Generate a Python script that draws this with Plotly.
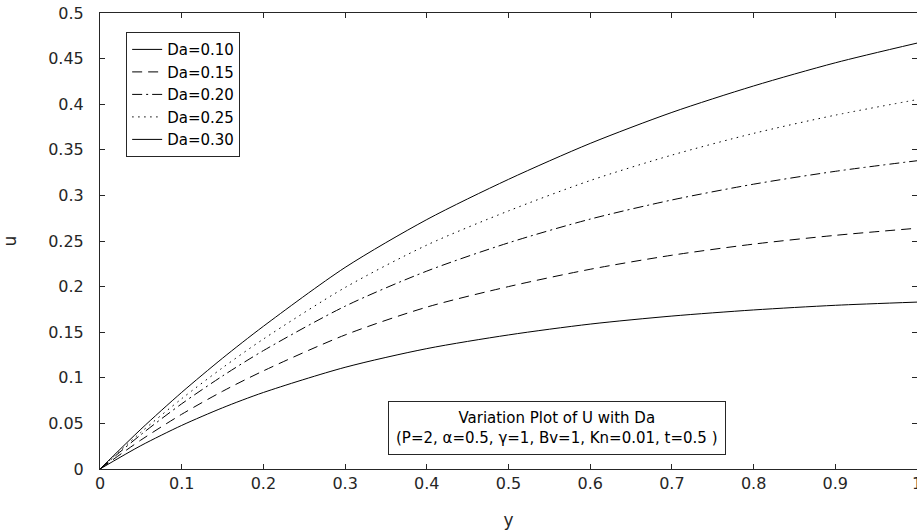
import plotly.graph_objects as go

# positions across the channel (y) and velocity u for each Darcy number
y_pos = [0, 0.05, 0.1, 0.15, 0.2, 0.3, 0.4, 0.5, 0.6, 0.7, 0.8, 0.9, 1.0]
u_da010 = [0, 0.0256, 0.0478, 0.0671, 0.0839, 0.1115, 0.1320, 0.1470, 0.1589, 0.1677, 0.1744, 0.1795, 0.1830]
u_da015 = [0, 0.0317, 0.0600, 0.0852, 0.1076, 0.1470, 0.1775, 0.2000, 0.2190, 0.2344, 0.2466, 0.2562, 0.2640]
u_da020 = [0, 0.0376, 0.0715, 0.1020, 0.1298, 0.1785, 0.2170, 0.2480, 0.2740, 0.2950, 0.3123, 0.3264, 0.3380]
u_da025 = [0, 0.0402, 0.0771, 0.1110, 0.1425, 0.1990, 0.2455, 0.2830, 0.3163, 0.3442, 0.3680, 0.3880, 0.4050]
u_da030 = [0, 0.0436, 0.0840, 0.1215, 0.1565, 0.2210, 0.2735, 0.3176, 0.3570, 0.3910, 0.4200, 0.4454, 0.4670]

series_names = ["Da=0.10", "Da=0.15", "Da=0.20", "Da=0.25", "Da=0.30"]
series_values = [u_da010, u_da015, u_da020, u_da025, u_da030]
dashes = ["solid", "10px,6px", "10px,4px,2px,4px", "1.5px,4.5px", "solid"]

x_ticks = [0, 0.1, 0.2, 0.3, 0.4, 0.5, 0.6, 0.7, 0.8, 0.9, 1]
x_labels = ["0", "0.1", "0.2", "0.3", "0.4", "0.5", "0.6", "0.7", "0.8", "0.9", "1"]
y_ticks = [0, 0.05, 0.1, 0.15, 0.2, 0.25, 0.3, 0.35, 0.4, 0.45, 0.5]
y_labels = ["0", "0.05", "0.1", "0.15", "0.2", "0.25", "0.3", "0.35", "0.4", "0.45", "0.5"]

FONT = "DejaVu Sans, Arial, sans-serif"
AX = "#262626"

fig = go.Figure()
for name, vals, dash in zip(series_names, series_values, dashes):
    fig.add_trace(go.Scatter(
        x=y_pos, y=vals, mode="lines", name=name,
        line=dict(color="black", width=1, dash=dash, shape="spline", smoothing=0.8),
    ))

axis_common = dict(
    showline=True, linecolor=AX, linewidth=1, mirror="ticks",
    ticks="inside", ticklen=5, tickcolor=AX, tickwidth=1,
    showgrid=False, zeroline=False, automargin=False,
    ticklabeloverflow="allow",
    tickfont=dict(family=FONT, size=16, color=AX),
)

fig.update_xaxes(range=[0, 1], tickvals=x_ticks, ticktext=x_labels,
                 title=dict(text="y", font=dict(family=FONT, size=17, color=AX), standoff=21),
                 **axis_common)
fig.update_yaxes(range=[0, 0.5], tickvals=y_ticks, ticktext=y_labels,
                 ticklabelstandoff=12,
                 title=dict(text="u", font=dict(family=FONT, size=17, color=AX), standoff=39),
                 **axis_common)

fig.add_annotation(
    xref="paper", yref="paper", x=0.559, y=0.089, xanchor="center", yanchor="middle",
    text="Variation Plot of U with Da<br>(P=2, α=0.5, γ=1, Bv=1, Kn=0.01, t=0.5 )",
    showarrow=False, align="center",
    font=dict(family=FONT, size=15, color="black"),
    bgcolor="white", bordercolor=AX, borderwidth=1, borderpad=7,
)

fig.update_layout(
    width=917, height=531,
    margin=dict(l=100, r=0, t=13, b=62),
    plot_bgcolor="white", paper_bgcolor="white",
    font=dict(family=FONT, size=16, color=AX),
    legend=dict(
        x=0.032, y=0.958, xanchor="left", yanchor="top",
        bgcolor="white", bordercolor=AX, borderwidth=1,
        font=dict(family=FONT, size=15, color="black"),
        tracegroupgap=0,
    ),
    showlegend=True,
)

fig.write_html("out.html", config={"displayModeBar": False},
               post_script="document.body.style.margin='0';")
